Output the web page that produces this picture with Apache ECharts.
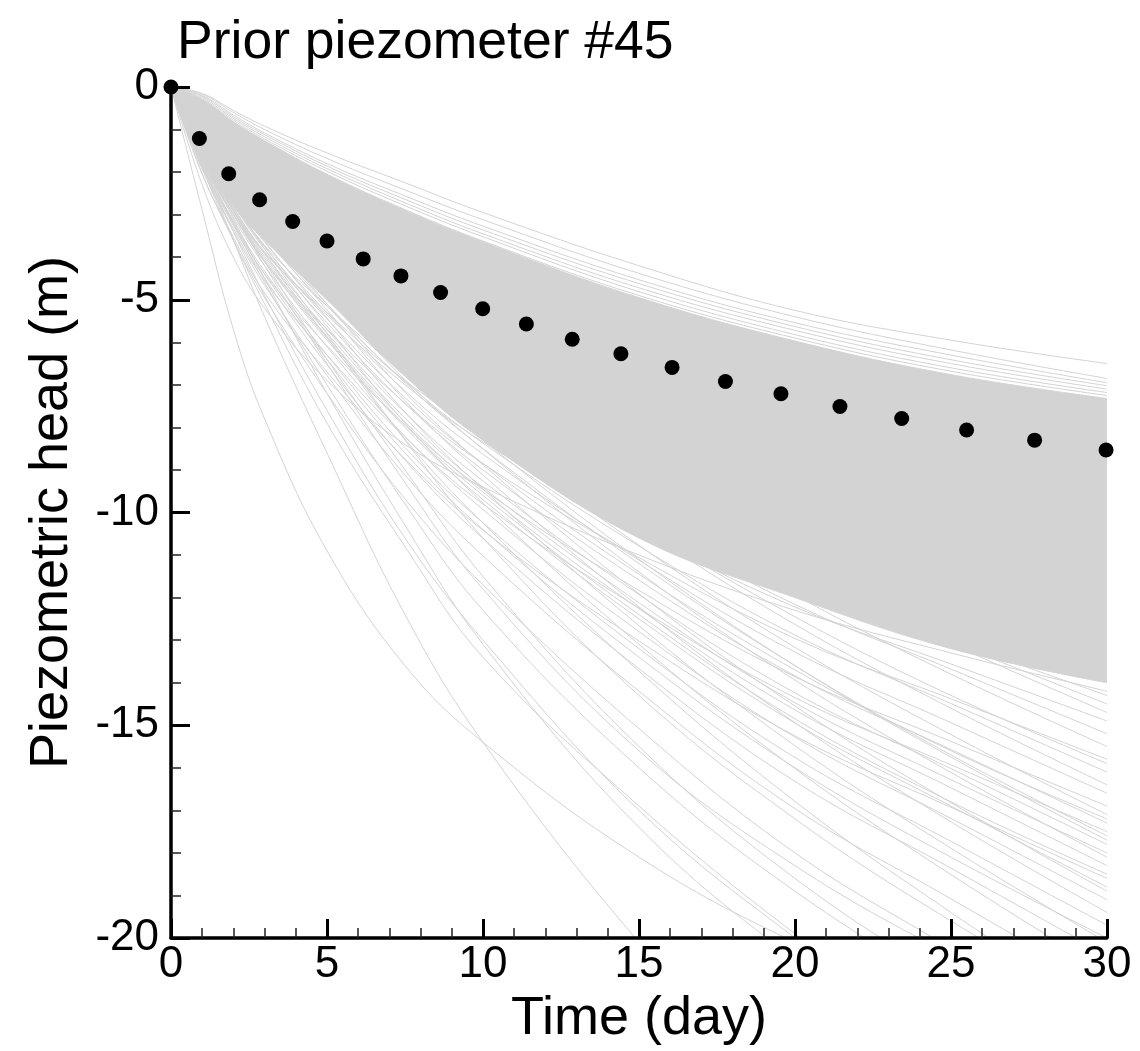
<!DOCTYPE html>
<html>
<head>
<meta charset="utf-8">
<title>Prior piezometer #45</title>
<script src="https://cdn.jsdelivr.net/npm/echarts@6/dist/echarts.min.js"></script>
<style>
html, body { margin: 0; padding: 0; background: #fff; }
#chart { width: 1140px; height: 1051px; }
</style>
</head>
<body>
<div id="chart"></div>
<script>
var days = [0, 1, 2, 3, 5, 7.5, 10, 15, 20, 25, 30];

// observed heads (black dots)
var obsDays = [0, 0.91, 1.85, 2.84, 3.9, 5.0, 6.16, 7.37, 8.64, 9.99, 11.39, 12.86, 14.42, 16.06, 17.77, 19.55, 21.44, 23.42, 25.5, 27.68, 29.97];
var obsHead = [0, -1.21, -2.04, -2.65, -3.16, -3.62, -4.04, -4.44, -4.83, -5.21, -5.57, -5.93, -6.27, -6.59, -6.92, -7.21, -7.51, -7.79, -8.06, -8.3, -8.53];

// edges of the part of the ensemble that is solid grey
var bandTop = [0, -0.3, -0.82, -1.27, -2.06, -2.9, -3.64, -4.95, -5.97, -6.76, -7.32];
var bandBottom = [0, -1.7, -2.8, -3.6, -5.0, -6.8, -8.3, -10.6, -12.0, -13.2, -14.0];

// realizations above the solid part
var topLines = [
  [0, -0.15, -0.55, -0.92, -1.55, -2.25, -2.95, -4.2, -5.25, -5.95, -6.5],
  [0, -0.17, -0.6, -1.0, -1.68, -2.42, -3.12, -4.38, -5.4, -6.18, -6.85],
  [0, -0.2, -0.66, -1.08, -1.8, -2.56, -3.27, -4.53, -5.54, -6.3, -6.95],
  [0, -0.22, -0.7, -1.12, -1.86, -2.64, -3.36, -4.62, -5.63, -6.41, -7.02],
  [0, -0.25, -0.74, -1.17, -1.92, -2.72, -3.45, -4.72, -5.72, -6.5, -7.1],
  [0, -0.28, -0.78, -1.22, -1.98, -2.79, -3.52, -4.81, -5.82, -6.6, -7.18],
  [0, -0.3, -0.82, -1.26, -2.05, -2.88, -3.62, -4.9, -5.9, -6.68, -7.25]
];

// realizations fanning out below the solid part
var spreadLines = [
  [0, -1.5, -2.6, -3.5, -4.9, -6.5, -7.8, -9.8, -11.4, -12.6, -13.6],
  [0, -1.2, -2.2, -3.0, -4.4, -6.0, -7.3, -9.5, -11.2, -12.6, -13.8],
  [0, -1.7, -2.9, -3.9, -5.3, -6.9, -8.1, -10.0, -11.5, -12.7, -13.7],
  [0, -1.57, -2.72, -3.72, -5.15, -6.72, -8.01, -10.01, -11.73, -13.01, -14.3],
  [0, -1.31, -2.32, -3.19, -4.64, -6.24, -7.54, -9.72, -11.6, -13.05, -14.5],
  [0, -1.03, -1.91, -2.65, -3.97, -5.59, -6.91, -9.26, -11.32, -13.08, -14.7],
  [0, -1.64, -2.83, -3.87, -5.36, -7.0, -8.34, -10.43, -12.22, -13.56, -14.9],
  [0, -1.37, -2.43, -3.34, -4.86, -6.54, -7.9, -10.18, -12.16, -13.68, -15.2],
  [0, -1.09, -2.02, -2.79, -4.19, -5.89, -7.29, -9.77, -11.94, -13.8, -15.5],
  [0, -1.74, -3.0, -4.11, -5.69, -7.43, -8.85, -11.06, -12.96, -14.38, -15.8],
  [0, -1.35, -2.4, -3.3, -4.75, -6.45, -7.85, -10.3, -12.45, -14.3, -15.9],
  [0, -1.45, -2.58, -3.54, -5.15, -6.92, -8.37, -10.79, -12.88, -14.49, -16.1],
  [0, -1.15, -2.13, -2.95, -4.43, -6.23, -7.71, -10.33, -12.63, -14.6, -16.4],
  [0, -1.49, -2.66, -3.65, -5.31, -7.14, -8.63, -11.12, -13.28, -14.94, -16.6],
  [0, -1.86, -3.21, -4.39, -6.08, -7.94, -9.46, -11.83, -13.86, -15.38, -16.9],
  [0, -1.2, -2.22, -3.08, -4.62, -6.5, -8.04, -10.77, -13.17, -15.22, -17.1],
  [0, -1.55, -2.75, -3.75, -5.45, -7.3, -8.85, -11.45, -13.7, -15.6, -17.2],
  [0, -1.56, -2.77, -3.81, -5.54, -7.44, -9.0, -11.59, -13.84, -15.57, -17.3],
  [0, -1.93, -3.33, -4.55, -6.3, -8.23, -9.8, -12.25, -14.35, -15.93, -17.5],
  [0, -1.42, -2.55, -3.5, -5.1, -6.95, -8.5, -11.2, -13.6, -15.7, -17.6],
  [0, -1.25, -2.3, -3.2, -4.75, -6.7, -8.3, -11.1, -13.6, -15.75, -17.7],
  [0, -1.6, -2.85, -3.92, -5.7, -7.65, -9.26, -11.93, -14.24, -16.02, -17.8],
  [0, -1.62, -2.9, -3.98, -5.78, -7.78, -9.41, -12.12, -14.47, -16.28, -18.0],
  [0, -1.27, -2.35, -3.26, -4.89, -6.88, -8.51, -11.4, -13.94, -16.11, -18.1],
  [0, -1.65, -2.93, -4.03, -5.86, -7.87, -9.52, -12.26, -14.64, -16.47, -18.3],
  [0, -1.68, -2.98, -4.08, -5.9, -7.95, -9.6, -12.4, -14.85, -16.8, -18.5],
  [0, -2.05, -3.53, -4.84, -6.7, -8.74, -10.42, -13.02, -15.25, -16.93, -18.6],
  [0, -1.7, -3.0, -4.1, -5.95, -8.0, -9.7, -12.5, -14.95, -16.9, -18.8],
  [0, -1.32, -2.46, -3.4, -5.1, -7.18, -8.88, -11.91, -14.55, -16.82, -18.9],
  [0, -1.72, -3.06, -4.2, -6.11, -8.21, -9.93, -12.8, -15.28, -17.19, -19.1],
  [0, -1.36, -2.52, -3.49, -5.24, -7.37, -9.12, -12.22, -14.94, -17.27, -19.4],
  [0, -1.77, -3.15, -4.33, -6.3, -8.47, -10.24, -13.2, -15.76, -17.73, -19.7],
  [0, -1.8, -3.2, -4.4, -6.4, -8.6, -10.4, -13.4, -16.0, -18.1, -20.0],
  [0, -1.41, -2.61, -3.62, -5.43, -7.64, -9.45, -12.66, -15.48, -17.89, -20.1],
  [0, -1.84, -3.26, -4.49, -6.53, -8.77, -10.61, -13.67, -16.32, -18.36, -20.4],
  [0, -1.46, -2.7, -3.74, -5.62, -7.9, -9.78, -13.1, -16.02, -18.51, -20.8],
  [0, -1.91, -3.39, -4.66, -6.78, -9.12, -11.02, -14.2, -16.96, -19.08, -21.2],
  [0, -1.53, -2.83, -3.92, -5.89, -8.28, -10.25, -13.73, -16.79, -19.4, -21.8],
  [0, -2.03, -3.6, -4.95, -7.2, -9.68, -11.7, -15.08, -18.0, -20.25, -22.5]
];

// the few steep realizations in the lower left
var steepLines = [
  [0, -2.9, -5.7, -7.8, -10.9, -13.6, -15.4, -18.1, -20.1, -21.6, -22.9],
  [0, -1.8, -3.6, -5.4, -8.6, -12.4, -15.4, -20.1, -24.0, -27.5, -30.5],
  [0, -1.9, -3.6, -5.1, -7.9, -10.8, -13.4, -16.9, -19.9, -22.5, -24.8],
  [0, -2.3, -4.0, -5.2, -6.9, -8.4, -9.4, -11.0, -12.3, -13.3, -14.2],
  [0, -1.5, -2.9, -4.1, -6.4, -9.0, -11.5, -15.5, -18.6, -21.0, -23.0],
  [0, -1.7, -3.2, -4.6, -7.0, -9.8, -12.3, -16.0, -18.9, -21.2, -23.2],
  [0, -1.6, -3.1, -4.5, -7.2, -10.3, -13.1, -17.4, -20.5, -23.0, -25.2],
  [0, -1.8, -3.4, -4.9, -7.6, -10.6, -13.0, -17.0, -20.0, -22.6, -24.8],
  [0, -1.5, -2.7, -3.8, -5.8, -8.3, -10.6, -14.3, -17.2, -19.6, -21.7],
  [0, -1.5, -2.9, -4.2, -6.5, -9.3, -11.8, -15.6, -18.3, -20.4, -22.2]
];

var font = 'Liberation Sans, Arial, Helvetica, sans-serif';
var grey = '#d3d3d3';
var smoothness = 0.4;

function toPairs(vals) {
  return vals.map(function (v, i) { return [days[i], v]; });
}

var myChart = echarts.init(document.getElementById('chart'));

var series = [];

// solid band: grey down from its top edge, then white up to its bottom edge
series.push({
  type: 'line', data: toPairs(bandTop), smooth: smoothness, symbol: 'none',
  lineStyle: { color: grey, width: 1 },
  areaStyle: { color: grey, opacity: 1, origin: 'start' }, silent: true, z: 1
});
series.push({
  type: 'line', data: toPairs(bandBottom), smooth: smoothness, symbol: 'none',
  lineStyle: { color: grey, width: 1 },
  areaStyle: { color: '#fff', opacity: 1, origin: 'start' }, silent: true, z: 1
});

topLines.concat(spreadLines, steepLines).forEach(function (vals) {
  series.push({
    type: 'line', data: toPairs(vals), smooth: smoothness, symbol: 'none',
    lineStyle: { color: grey, width: 1 }, silent: true, z: 2
  });
});

series.push({
  type: 'scatter',
  data: obsDays.map(function (d, i) { return [d, obsHead[i]]; }),
  symbolSize: 15, itemStyle: { color: '#000', opacity: 1 }, z: 5
});

var option = {
  animation: false,
  title: {
    text: 'Prior piezometer #45',
    left: 172, top: 11,
    textStyle: { fontSize: 53.5, fontWeight: 'normal', color: '#000', fontFamily: font }
  },
  grid: { left: 171, right: 33, top: 87, bottom: 113, outerBoundsMode: 'none' },
  xAxis: {
    type: 'value', min: 0, max: 30, interval: 5, z: 10,
    name: 'Time (day)', nameLocation: 'middle', nameGap: 40,
    nameTextStyle: { fontSize: 54, color: '#000', fontFamily: font },
    axisLine: { onZero: false, lineStyle: { color: '#000', width: 3.5 } },
    axisTick: { inside: true, length: 19, lineStyle: { color: '#000', width: 3 } },
    minorTick: { show: true, splitNumber: 5, length: 10, lineStyle: { color: '#222', width: 1.5 } },
    splitLine: { show: false },
    axisLabel: { fontSize: 44, color: '#000', fontFamily: font, margin: 5 }
  },
  yAxis: {
    type: 'value', min: -20, max: 0, interval: 5, z: 10,
    name: 'Piezometric head (m)', nameLocation: 'middle', nameGap: 92,
    nameTextStyle: { fontSize: 54, color: '#000', fontFamily: font },
    axisLine: { onZero: false, lineStyle: { color: '#000', width: 3.5 } },
    axisTick: { inside: true, length: 19, lineStyle: { color: '#000', width: 3 } },
    minorTick: { show: true, splitNumber: 5, length: 10, lineStyle: { color: '#222', width: 1.5 } },
    splitLine: { show: false },
    axisLabel: { fontSize: 44, color: '#000', fontFamily: font, margin: 12 }
  },
  series: series
};

myChart.setOption(option);
</script>
</body>
</html>
